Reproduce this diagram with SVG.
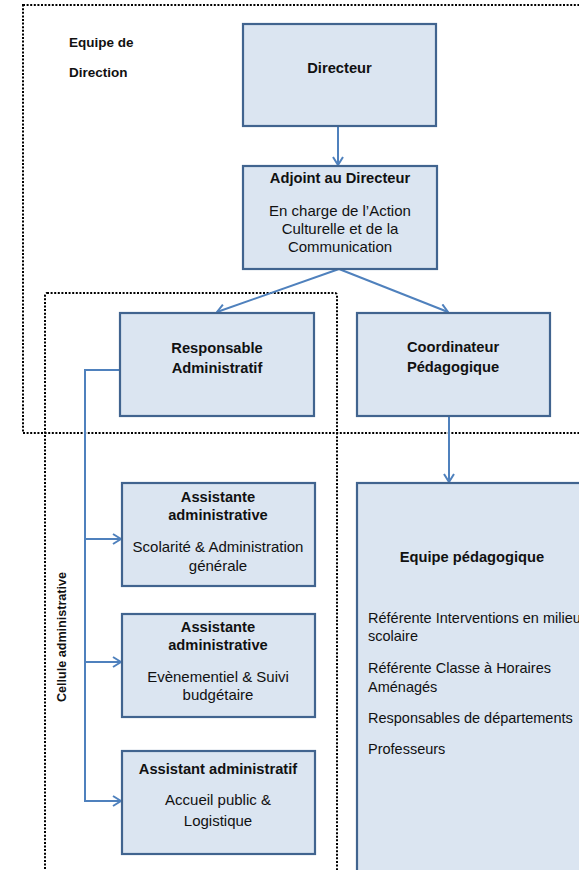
<svg xmlns="http://www.w3.org/2000/svg" width="579" height="870" viewBox="0 0 579 870">
<style>
.box{fill:#DBE5F1;stroke:#41648F;stroke-width:2.2}
.dot{fill:none;stroke:#000;stroke-width:2;stroke-dasharray:2 1.6}
.con{fill:none;stroke:#4F81BD;stroke-width:2}
text{font-family:"Liberation Sans",Arial,sans-serif;fill:#111}
.b{font-weight:bold;font-size:14.7px}
.r{font-size:15px}
.c{text-anchor:middle}
.l{font-size:14.5px}
</style>
<defs>
<marker id="ah" viewBox="0 0 10 12" refX="9" refY="6" markerWidth="10" markerHeight="12" markerUnits="userSpaceOnUse" orient="auto">
<path d="M1,1 L9,6 L1,11" fill="none" stroke="#4F81BD" stroke-width="2"/>
</marker>
</defs>
<rect class="dot" x="23" y="5" width="570" height="428"/>
<rect class="dot" x="45" y="293" width="292" height="600" rx="2"/>
<g id="label-direction">
<text x="69" y="47" style="font-weight:bold;font-size:13.5px">Equipe de</text>
<text x="69" y="77" style="font-weight:bold;font-size:13.5px">Direction</text>
</g>
<g id="label-cellule">
<text transform="translate(66,637) rotate(-90)" class="c" style="font-weight:bold;font-size:12.5px" textLength="130" lengthAdjust="spacingAndGlyphs">Cellule administrative</text>
</g>
<g id="connectors">
<path class="con" d="M338,127 L338,165" marker-end="url(#ah)"/>
<path class="con" d="M339,269 L217,312" marker-end="url(#ah)"/>
<path class="con" d="M339,269 L448,312" marker-end="url(#ah)"/>
<path class="con" d="M449,417 L449,482" marker-end="url(#ah)"/>
<path class="con" d="M120,370 L85,370 L85,801 L121,801" marker-end="url(#ah)"/>
<path class="con" d="M85,539 L121,539" marker-end="url(#ah)"/>
<path class="con" d="M85,662 L121,662" marker-end="url(#ah)"/>
</g>
<g id="directeur">
<rect class="box" x="243" y="24" width="193" height="102"/>
<text class="b c" x="339.5" y="73">Directeur</text>
</g>
<g id="adjoint">
<rect class="box" x="243" y="166" width="194" height="103"/>
<text class="b c" x="340" y="183">Adjoint au Directeur</text>
<text class="r c" x="340" y="216">En charge de l’Action</text>
<text class="r c" x="340" y="234">Culturelle et de la</text>
<text class="r c" x="340" y="252">Communication</text>
</g>
<g id="responsable">
<rect class="box" x="120" y="313" width="194" height="103"/>
<text class="b c" x="217" y="353">Responsable</text>
<text class="b c" x="217" y="373">Administratif</text>
</g>
<g id="coordinateur">
<rect class="box" x="357" y="313" width="193" height="103"/>
<text class="b c" x="453" y="352">Coordinateur</text>
<text class="b c" x="453" y="372">Pédagogique</text>
</g>
<g id="equipe-pedagogique">
<rect class="box" x="357" y="483" width="240" height="400"/>
<text class="b c" x="472" y="562">Equipe pédagogique</text>
<text class="l" x="368" y="623">Référente Interventions en milieu</text>
<text class="l" x="368" y="641">scolaire</text>
<text class="l" x="368" y="673">Référente Classe à Horaires</text>
<text class="l" x="368" y="692">Aménagés</text>
<text class="l" x="368" y="723">Responsables de départements</text>
<text class="l" x="368" y="754">Professeurs</text>
</g>
<g id="assistante-1">
<rect class="box" x="122" y="483" width="193" height="103"/>
<text class="b c" x="218" y="502">Assistante</text>
<text class="b c" x="218" y="520">administrative</text>
<text class="r c" x="218" y="552">Scolarité &amp; Administration</text>
<text class="r c" x="218" y="571">générale</text>
</g>
<g id="assistante-2">
<rect class="box" x="122" y="614" width="193" height="103"/>
<text class="b c" x="218" y="632">Assistante</text>
<text class="b c" x="218" y="650">administrative</text>
<text class="r c" x="218" y="682">Evènementiel &amp; Suivi</text>
<text class="r c" x="218" y="700">budgétaire</text>
</g>
<g id="assistant-3">
<rect class="box" x="122" y="751" width="193" height="103"/>
<text class="b c" x="218" y="774">Assistant administratif</text>
<text class="r c" x="218" y="805">Accueil public &amp;</text>
<text class="r c" x="218" y="826">Logistique</text>
</g>
</svg>
